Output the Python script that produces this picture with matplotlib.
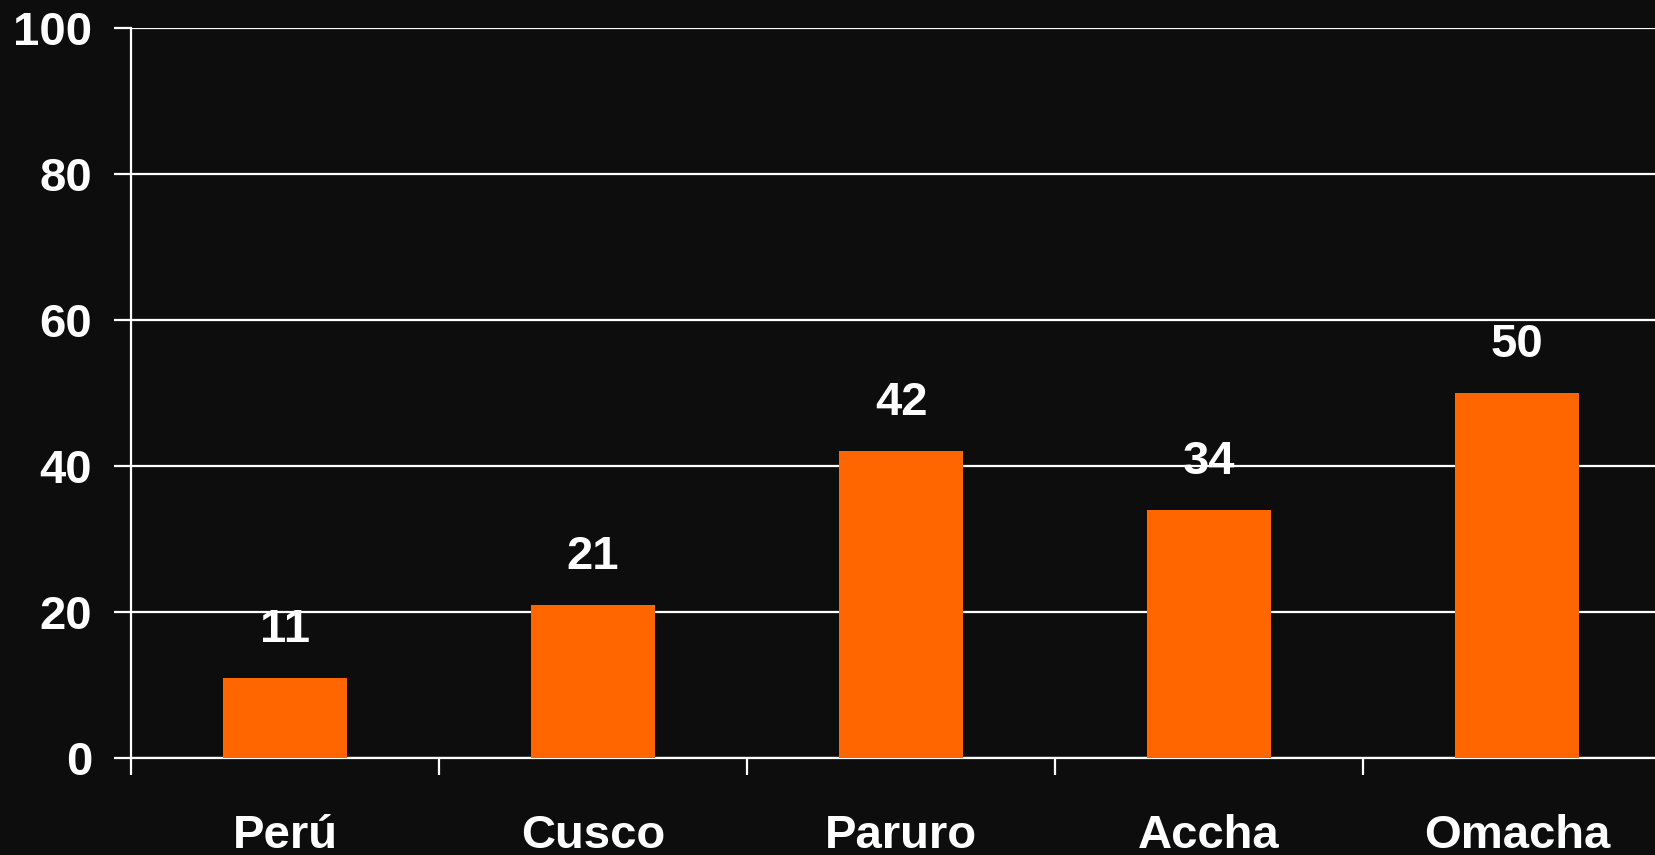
import numpy as np
import matplotlib.pyplot as plt

categories = ["Perú", "Cusco", "Paruro", "Accha", "Omacha"]
values = [11, 21, 42, 34, 50]
yticks = [0, 20, 40, 60, 80, 100]

bg = "#0d0d0d"
orange = "#ff6600"

plt.rcParams['font.family'] = ['Liberation Sans', 'DejaVu Sans']
plt.rcParams['font.weight'] = 'bold'

W, H = 1655, 855
fig = plt.figure(figsize=(W / 100, H / 100), dpi=100, facecolor=bg)
ax = fig.add_axes([131 / W, (H - 758) / H, 5 * 308 / W, 730 / H])
ax.set_facecolor(bg)

x = np.arange(len(categories))
ax.bar(x, values, width=0.4, color=orange, zorder=3)
for xi, v in zip(x, values):
    ax.text(xi, v + 6.6, str(v), ha='center', va='center', color='white',
            fontsize=34, fontweight='bold')

ax.set_xlim(-0.5, len(categories) - 0.5)
ax.set_ylim(0, 100)
ax.set_yticks(yticks)
ax.set_yticklabels([str(t) for t in yticks])
ax.yaxis.grid(True, color='white', linewidth=1.6, zorder=1)
ax.set_axisbelow(True)

# boundary ticks below the axis, names at the bar centres
ax.set_xticks(np.arange(len(categories) + 1) - 0.5)
ax.set_xticklabels([])
ax.set_xticks(x, minor=True)
ax.set_xticklabels(categories, minor=True)
ax.tick_params(axis='x', which='major', direction='out', length=12, width=1.6, color='white')
ax.tick_params(axis='x', which='minor', length=0, pad=40, labelsize=34, labelcolor='white')
ax.tick_params(axis='y', direction='out', length=12, width=1.6, color='white',
               pad=16, labelsize=34, labelcolor='white')

for s in ['top', 'right']:
    ax.spines[s].set_visible(False)
for s in ['left', 'bottom']:
    ax.spines[s].set_color('white')
    ax.spines[s].set_linewidth(1.6)

fig.savefig("out.png", dpi=100, facecolor=bg)
